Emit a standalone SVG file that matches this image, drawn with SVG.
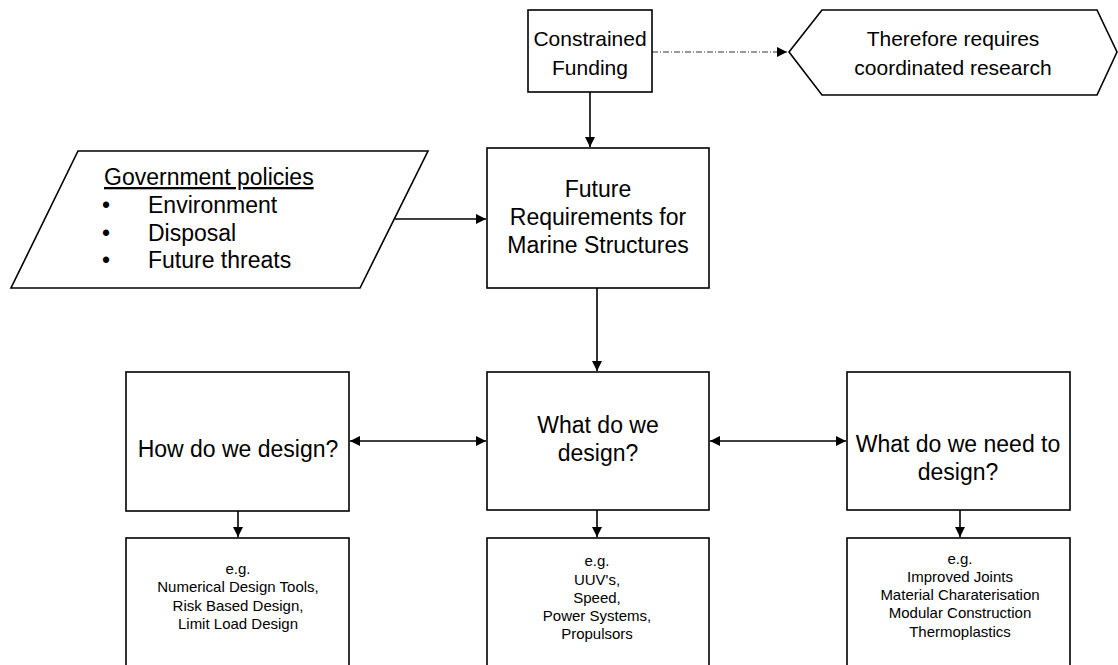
<svg xmlns="http://www.w3.org/2000/svg" width="1118" height="665" viewBox="0 0 1118 665">
<defs>
<style>
.box{fill:#fff;stroke:#000;stroke-width:1.6}
.ln{fill:none;stroke:#000;stroke-width:1.6}
.dash{fill:none;stroke:#333;stroke-width:1.2;stroke-dasharray:6 2 1 2}
.t{font-family:"Liberation Sans",Arial,sans-serif;fill:#000;text-anchor:middle}
.big{font-size:23px}
.mid{font-size:21px}
.sm{font-size:15px}
.lt{font-family:"Liberation Sans",Arial,sans-serif;fill:#000;font-size:23px}
</style>
<marker id="ah" viewBox="0 0 10 10" refX="10" refY="5" markerWidth="10" markerHeight="10" markerUnits="userSpaceOnUse" orient="auto-start-reverse">
<path d="M0,0 L10,5 L0,10 Z" fill="#000"/>
</marker>
</defs>
<rect width="1118" height="665" fill="#fff"/>

<g id="connectors">
<line class="dash" x1="652" y1="52" x2="787" y2="52" marker-end="url(#ah)"/>
<line class="ln" x1="590" y1="92" x2="590" y2="147" marker-end="url(#ah)"/>
<line class="ln" x1="395" y1="219" x2="486" y2="219" marker-end="url(#ah)"/>
<line class="ln" x1="597" y1="288" x2="597" y2="371" marker-end="url(#ah)"/>
<line class="ln" x1="350" y1="441" x2="486" y2="441" marker-start="url(#ah)" marker-end="url(#ah)"/>
<line class="ln" x1="710" y1="441" x2="846" y2="441" marker-start="url(#ah)" marker-end="url(#ah)"/>
<line class="ln" x1="238" y1="511" x2="238" y2="537" marker-end="url(#ah)"/>
<line class="ln" x1="597" y1="510" x2="597" y2="537" marker-end="url(#ah)"/>
<line class="ln" x1="960" y1="510" x2="960" y2="537" marker-end="url(#ah)"/>
</g>

<g id="constrained-funding">
<rect class="box" x="528" y="10" width="124" height="82"/>
<text class="t mid" x="590" y="46">Constrained</text>
<text class="t mid" x="590" y="75">Funding</text>
</g>

<g id="coordinated-research">
<path class="box" d="M789,52 L822,10 L1097,10 L1117,52 L1097,95 L822,95 Z"/>
<text class="t mid" x="953" y="46">Therefore requires</text>
<text class="t mid" x="953" y="75">coordinated research</text>
</g>

<g id="government-policies">
<path class="box" d="M78,151 L428,151 L360,288 L11,288 Z"/>
<text class="lt" x="104" y="185" text-decoration="underline">Government policies</text>
<text class="lt" x="102" y="213">•</text>
<text class="lt" x="148" y="213">Environment</text>
<text class="lt" x="102" y="241">•</text>
<text class="lt" x="148" y="241">Disposal</text>
<text class="lt" x="102" y="268">•</text>
<text class="lt" x="148" y="268">Future threats</text>
</g>

<g id="future-requirements">
<rect class="box" x="487" y="148" width="222" height="140"/>
<text class="t big" x="598" y="197">Future</text>
<text class="t big" x="598" y="225">Requirements for</text>
<text class="t big" x="598" y="253">Marine Structures</text>
</g>

<g id="how-design">
<rect class="box" x="126" y="372" width="223" height="139"/>
<text class="t big" x="238" y="457">How do we design?</text>
</g>

<g id="what-design">
<rect class="box" x="487" y="372" width="222" height="138"/>
<text class="t big" x="598" y="433">What do we</text>
<text class="t big" x="598" y="461">design?</text>
</g>

<g id="need-design">
<rect class="box" x="847" y="372" width="223" height="138"/>
<text class="t big" x="958" y="452">What do we need to</text>
<text class="t big" x="958" y="480">design?</text>
</g>

<g id="how-examples">
<rect class="box" x="126" y="538" width="223" height="140"/>
<text class="t sm" x="238" y="574">e.g.</text>
<text class="t sm" x="238" y="592">Numerical Design Tools,</text>
<text class="t sm" x="238" y="611">Risk Based Design,</text>
<text class="t sm" x="238" y="629">Limit Load Design</text>
</g>

<g id="what-examples">
<rect class="box" x="487" y="538" width="222" height="140"/>
<text class="t sm" x="597" y="566">e.g.</text>
<text class="t sm" x="597" y="585">UUV's,</text>
<text class="t sm" x="597" y="603">Speed,</text>
<text class="t sm" x="597" y="621">Power Systems,</text>
<text class="t sm" x="597" y="639">Propulsors</text>
</g>

<g id="need-examples">
<rect class="box" x="847" y="538" width="223" height="140"/>
<text class="t sm" x="960" y="564">e.g.</text>
<text class="t sm" x="960" y="582">Improved Joints</text>
<text class="t sm" x="960" y="600">Material Charaterisation</text>
<text class="t sm" x="960" y="618">Modular Construction</text>
<text class="t sm" x="960" y="637">Thermoplastics</text>
</g>
</svg>
